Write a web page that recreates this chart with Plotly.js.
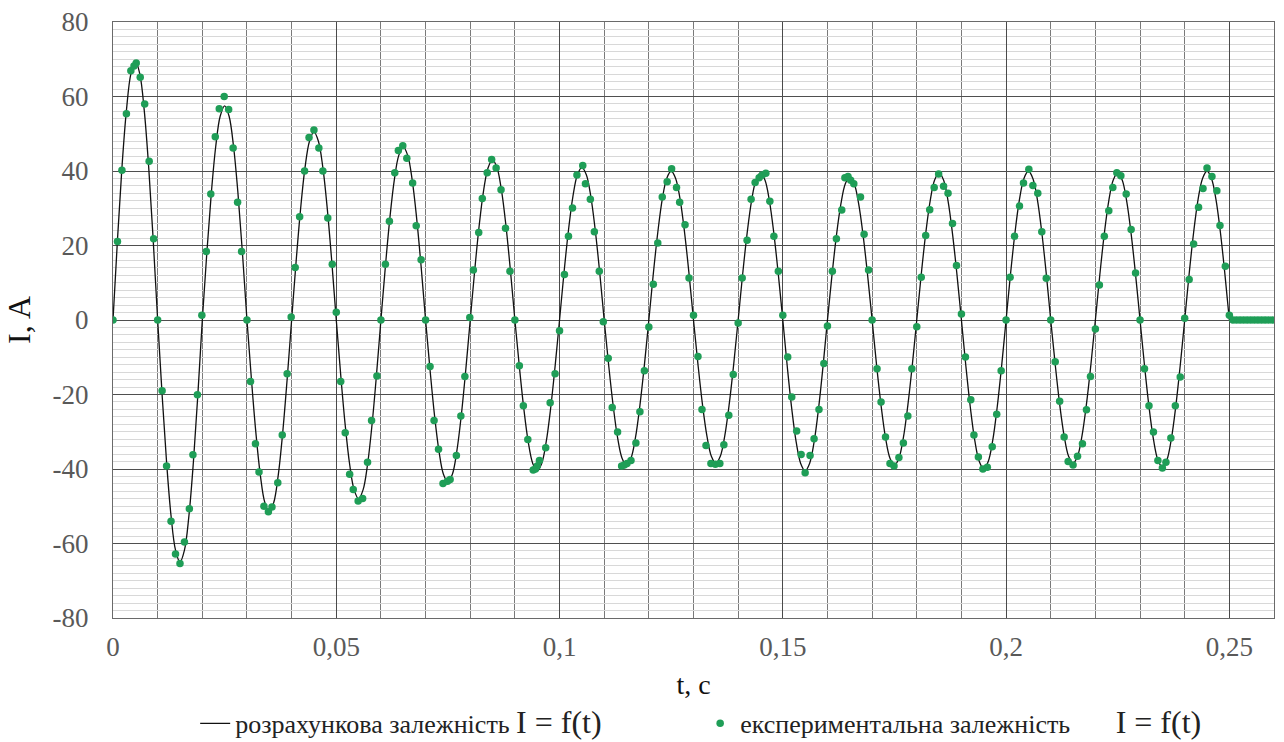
<!DOCTYPE html>
<html>
<head>
<meta charset="utf-8">
<script src="https://cdn.plot.ly/plotly-3.0.1.min.js"></script>
<style>
  html, body { margin: 0; padding: 0; background: #ffffff; }
  #chart { width: 1284px; height: 742px; }
</style>
</head>
<body>
<div id="chart"></div>
<script>
// Calculated current, sampled every 1 ms from 0 to 0.25 s (one line = one half-period)
const calcCurrent = [
  0, 21.5, 40.9, 56.2, 66.1, 69.5, 66.1, 56.2, 40.9, 21.5,
  0, -20.1, -38.2, -52.6, -61.8, -65, -61.8, -52.6, -38.2, -20.1,
  0, 17.8, 33.8, 46.5, 54.7, 57.5, 54.7, 46.5, 33.8, 17.8,
  0, -15.9, -30.3, -41.7, -49.0, -51.5, -49.0, -41.7, -30.3, -15.9,
  0, 15.6, 29.7, 40.9, 48.0, 50.5, 48.0, 40.9, 29.7, 15.6,
  0, -14.8, -28.2, -38.8, -45.6, -48, -45.6, -38.8, -28.2, -14.8,
  0, 14.4, 27.3, 37.6, 44.2, 46.5, 44.2, 37.6, 27.3, 14.4,
  0, -13.4, -25.6, -35.2, -41.4, -43.5, -41.4, -35.2, -25.6, -13.4,
  0, 13.3, 25.3, 34.8, 40.9, 43, 40.9, 34.8, 25.3, 13.3,
  0, -12.5, -23.8, -32.8, -38.5, -40.5, -38.5, -32.8, -23.8, -12.5,
  0, 12.7, 24.1, 33.2, 39.0, 41, 39.0, 33.2, 24.1, 12.7,
  0, -12.1, -22.9, -31.6, -37.1, -39, -37.1, -31.6, -22.9, -12.1,
  0, 12.4, 23.5, 32.4, 38.0, 40, 38.0, 32.4, 23.5, 12.4,
  0, -11.9, -22.6, -31.1, -36.6, -38.5, -36.6, -31.1, -22.6, -11.9,
  0, 12.2, 23.2, 32.0, 37.6, 39.5, 37.6, 32.0, 23.2, 12.2,
  0, -12.5, -23.8, -32.8, -38.5, -40.5, -38.5, -32.8, -23.8, -12.5,
  0, 11.9, 22.6, 31.1, 36.6, 38.5, 36.6, 31.1, 22.6, 11.9,
  0, -12.1, -22.9, -31.6, -37.1, -39, -37.1, -31.6, -22.9, -12.1,
  0, 12.2, 23.2, 32.0, 37.6, 39.5, 37.6, 32.0, 23.2, 12.2,
  0, -12.4, -23.5, -32.4, -38.0, -40, -38.0, -32.4, -23.5, -12.4,
  0, 12.4, 23.5, 32.4, 38.0, 40, 38.0, 32.4, 23.5, 12.4,
  0, -11.9, -22.6, -31.1, -36.6, -38.5, -36.6, -31.1, -22.6, -11.9,
  0, 12.2, 23.2, 32.0, 37.6, 39.5, 37.6, 32.0, 23.2, 12.2,
  0, -12.2, -23.2, -32.0, -37.6, -39.5, -37.6, -32.0, -23.2, -12.2,
  0, 12.4, 23.5, 32.4, 38.0, 40, 38.0, 32.4, 23.5, 12.4,
  0
];
const calcStep = 0.001; // sampling step of the calculated curve, s
const calcTime = calcCurrent.map((_, i) => +(i * calcStep).toFixed(4));

// Experimental points
const expTime = [
  0, 0.001, 0.002, 0.003, 0.004, 0.0047, 0.0052, 0.0061, 0.0071, 0.0081, 0.0091,
  0.010, 0.011, 0.012, 0.013, 0.014, 0.015, 0.016, 0.0171, 0.0179, 0.0189, 0.0199,
  0.0209, 0.0219, 0.0229, 0.0238, 0.0249, 0.0259, 0.0269, 0.0279, 0.0288,
  0.030, 0.0308, 0.0319, 0.0327, 0.0338, 0.0348, 0.0356, 0.0369, 0.0379, 0.039, 0.0399,
  0.0408, 0.0418, 0.0429, 0.0439, 0.045, 0.0461, 0.047, 0.0481, 0.0491,
  0.050, 0.051, 0.052, 0.053, 0.0538, 0.0549, 0.0559, 0.057, 0.0579, 0.0591,
  0.060, 0.061, 0.0619, 0.0631, 0.0639, 0.0649, 0.0658, 0.0671, 0.0679, 0.069,
  0.070, 0.071, 0.0719, 0.0729, 0.0739, 0.0749, 0.0755, 0.0769, 0.0779, 0.0788, 0.0799,
  0.0807, 0.0819, 0.0827, 0.0838, 0.0848, 0.0858, 0.0869, 0.0879, 0.0889,
  0.090, 0.091, 0.0919, 0.0929, 0.0941, 0.0946, 0.095, 0.0955, 0.0969, 0.0979, 0.099,
  0.100, 0.1011, 0.102, 0.1029, 0.1039, 0.1052, 0.1058, 0.1069, 0.1078, 0.1089,
  0.1098, 0.1109, 0.1118, 0.113, 0.1139, 0.1145, 0.1151, 0.116, 0.1171, 0.118, 0.119,
  0.120, 0.121, 0.122, 0.123, 0.1241, 0.1251, 0.1262, 0.1269, 0.1281, 0.129,
  0.130, 0.131, 0.1319, 0.1328, 0.1339, 0.1349, 0.1359, 0.1368, 0.1379, 0.1389,
  0.140, 0.1409, 0.142, 0.1429, 0.1438, 0.1447, 0.1454, 0.1462, 0.1471, 0.148, 0.149,
  0.150, 0.1511, 0.152, 0.1531, 0.1541, 0.155, 0.1561, 0.157, 0.1581, 0.1592,
  0.160, 0.1611, 0.162, 0.1632, 0.1639, 0.1646, 0.1652, 0.1659, 0.1674, 0.1682, 0.1692,
  0.170, 0.1711, 0.172, 0.173, 0.174, 0.1749, 0.176, 0.177, 0.178, 0.1789,
  0.180, 0.181, 0.182, 0.1829, 0.1839, 0.1849, 0.186, 0.187, 0.188, 0.1889,
  0.190, 0.1909, 0.1921, 0.1928, 0.1938, 0.1948, 0.1958, 0.1969, 0.1979, 0.1989,
  0.200, 0.2009, 0.2019, 0.203, 0.2039, 0.2051, 0.206, 0.2071, 0.208, 0.209,
  0.210, 0.211, 0.212, 0.213, 0.2139, 0.215, 0.216, 0.2171, 0.218, 0.2189,
  0.220, 0.2209, 0.222, 0.223, 0.2239, 0.2248, 0.2257, 0.2269, 0.228, 0.229,
  0.230, 0.231, 0.232, 0.233, 0.234, 0.235, 0.2358, 0.2369, 0.2379, 0.239,
  0.240, 0.241, 0.242, 0.2431, 0.2441, 0.245, 0.2461, 0.2472, 0.2479, 0.2491,
  0.250, 0.2508, 0.2516, 0.2524, 0.2532, 0.254, 0.2548, 0.2556, 0.2564, 0.2572,
  0.258, 0.2588, 0.2596
];
const expCurrent = [
  0, 21.1, 40.2, 55.4, 66.9, 68.2, 69, 65.2, 58, 42.6, 21.8,
  0, -19, -39.2, -54, -62.8, -65.4, -59.6, -50.7, -36.2, -20.1, 1.3,
  18.4, 33.8, 49.2, 56.7, 60, 56.5, 46.2, 31.6, 18.4,
  0, -16.5, -33.2, -40.8, -50, -51.5, -50.2, -43.7, -30.9, -14.4, 0.8,
  14.1, 27.7, 40, 49, 51, 46.2, 40, 27.4, 15,
  2.1, -16.5, -30.3, -41.4, -45.5, -48.6, -47.9, -38.2, -27, -15,
  0, 15, 26.5, 39.5, 45.5, 46.8, 43.4, 36.8, 25.3, 16.2,
  0, -12.5, -27, -34.7, -43.9, -43.3, -42.8, -36.4, -25.8, -15.2, 0.7,
  13.4, 23.5, 32.6, 39.5, 43.1, 40.8, 35, 24.6, 13.1,
  0, -12.3, -23, -32.1, -40.3, -40, -39.2, -37.7, -34.3, -22.2, -14.4,
  -2.9, 12.2, 22.5, 30.1, 38.9, 41.5, 36.6, 32.4, 23.7, 13.1,
  -0.5, -10.3, -23.5, -30.1, -39.2, -38.9, -38.5, -37.7, -33, -24.6, -13.6,
  -1.9, 9.6, 20.7, 33, 37.1, 40.6, 35.6, 31.6, 25.6, 11.3,
  1.3, -9.8, -24, -33.7, -38.5, -38.7, -38.5, -33.5, -25.6, -14.6,
  -0.8, 11.3, 21.4, 32.4, 36.9, 38.2, 38.9, 39.4, 31.9, 22.5, 13.1,
  1.3, -9.9, -20.7, -29.8, -36.1, -41, -36.4, -31.9, -24, -11.7,
  -1.6, 13.1, 21.8, 29.5, 38.2, 38.5, 37.5, 36.6, 33, 23, 13.4,
  0, -13.1, -22, -31.4, -38.5, -39.2, -36.9, -33, -25.8, -13.1,
  -1.8, 11.5, 22.7, 29.6, 35.6, 39.2, 35.9, 34, 25.9, 14.6,
  1.6, -9.9, -21.4, -30.9, -36.8, -40, -39.5, -34, -25.3, -13.6,
  0, 11.5, 22.5, 30.6, 36.8, 40.5, 36.1, 34, 23.7, 11.2,
  0, -11.2, -21.8, -31.4, -38, -38.9, -36.6, -33.2, -24.1, -15.2,
  -2.4, 9.4, 22.5, 29.3, 35.6, 39.5, 38.7, 33.8, 24.3, 12.6,
  0, -13.1, -23, -30.1, -37.7, -39.7, -38.2, -31.7, -23, -15.3,
  0.5, 10.9, 20.4, 30.3, 35.3, 40.8, 38.5, 34.7, 25.4, 14.4,
  1.3, 0, 0, 0, 0, 0, 0, 0, 0, 0,
  0, 0, 0
];

// Axis ticks
const xTickVals = [0, 0.05, 0.1, 0.15, 0.2, 0.25];
const xTickText = ['0', '0,05', '0,1', '0,15', '0,2', '0,25'];
const yTickVals = [-80, -60, -40, -20, 0, 20, 40, 60, 80];
const yTickText = ['-80', '-60', '-40', '-20', '0', '20', '40', '60', '80'];

const nameCalc = 'розрахункова залежність <span style="font-size:32px">I = f(t)</span>';
const nameExp = 'експериментальна залежність\u00A0\u00A0\u00A0\u00A0\u00A0\u00A0 <span style="font-size:32px">I = f(t)</span>';

const serif = 'Liberation Serif';

const traces = [
  {
    x: calcTime, y: calcCurrent,
    type: 'scatter', mode: 'lines',
    line: { color: '#111111', width: 1.3, shape: 'spline', smoothing: 1 },
    name: nameCalc
  },
  {
    x: expTime, y: expCurrent,
    type: 'scatter', mode: 'markers',
    marker: { color: '#1f9e57', size: 7.5 },
    name: nameExp
  }
];

const layout = {
  width: 1284, height: 742,
  margin: { l: 113, r: 10, t: 22, b: 124 },
  paper_bgcolor: '#ffffff', plot_bgcolor: '#ffffff',
  separators: ', ',
  font: { family: serif, color: '#595959', size: 27 },
  showlegend: true,
  legend: {
    orientation: 'h',
    xref: 'container', yref: 'container',
    x: 0.152, xanchor: 'left', y: 0.025, yanchor: 'middle',
    font: { family: serif, size: 26, color: '#222222' },
    entrywidth: 460, entrywidthmode: 'pixels',
    bgcolor: 'rgba(0,0,0,0)'
  },
  xaxis: {
    range: [0, 0.26],
    tickmode: 'array', tickvals: xTickVals, ticktext: xTickText,
    ticks: 'outside', ticklen: 5, tickcolor: 'rgba(0,0,0,0)',
    tickfont: { family: serif, size: 27, color: '#595959' },
    showgrid: true, gridcolor: '#4a4a4a', gridwidth: 1,
    minor: { dtick: 0.01, tick0: 0, showgrid: true, gridcolor: '#7a7a7a', gridwidth: 1, ticks: '' },
    zeroline: false,
    showline: true, mirror: true, linecolor: '#6a6a6a', linewidth: 1,
    title: { text: 't, c', font: { family: serif, size: 28, color: '#111111' }, standoff: 17 }
  },
  yaxis: {
    range: [-80, 80],
    tickmode: 'array', tickvals: yTickVals, ticktext: yTickText,
    ticks: 'outside', ticklen: 18, tickcolor: 'rgba(0,0,0,0)',
    tickfont: { family: serif, size: 27, color: '#595959' },
    showgrid: true, gridcolor: '#4f4f4f', gridwidth: 1,
    minor: { dtick: 2, tick0: 0, showgrid: true, gridcolor: '#d8d8d8', gridwidth: 1, ticks: '' },
    zeroline: false,
    showline: true, mirror: true, linecolor: '#6a6a6a', linewidth: 1,
    title: { text: 'I, A', font: { family: serif, size: 32, color: '#111111' }, standoff: 12 }
  }
};

Plotly.newPlot('chart', traces, layout, { displayModeBar: false, staticPlot: true });
</script>
</body>
</html>
